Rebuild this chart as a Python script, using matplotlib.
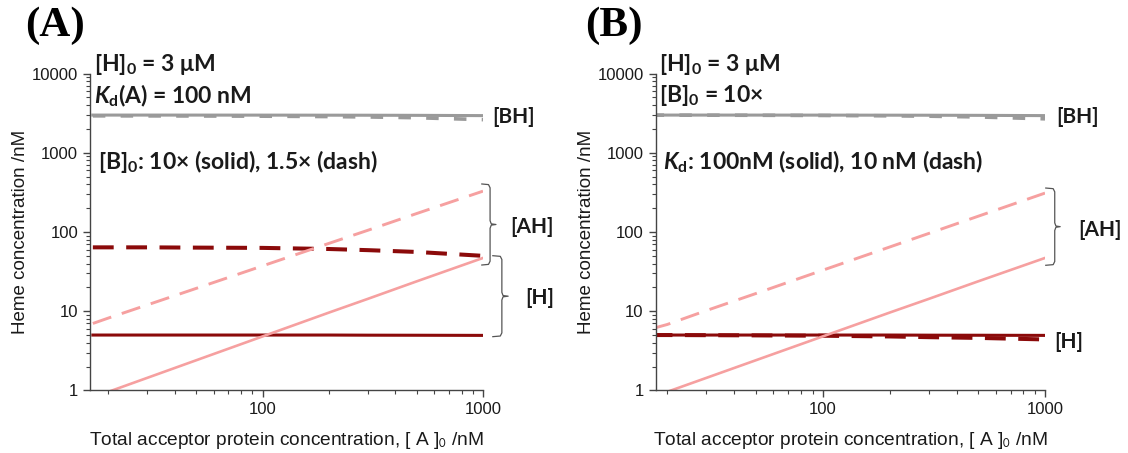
import numpy as np
import matplotlib
matplotlib.use('Agg')
import matplotlib.pyplot as plt
from matplotlib.ticker import FixedLocator, NullFormatter

# total acceptor concentration [A]0 (nM)
conc = [17, 20, 30, 50, 100, 200, 300, 500, 1000]

# panel A: [B]0 10x (solid) vs 1.5x (dash), Kd(A) = 100 nM
a_bh_solid = [2994, 2994, 2994, 2993, 2990, 2985, 2981, 2971, 2948]
a_bh_dash = [2929, 2928, 2924, 2917, 2900, 2867, 2836, 2773, 2622]
a_h_solid = [5.0, 5.0, 5.0, 5.0, 5.0, 5.0, 4.98, 4.97, 4.95]
a_h_dash = [64, 64, 64, 63.5, 63, 61, 59, 56, 50]
a_ah_solid = [0.82, 0.96, 1.44, 2.4, 4.8, 9.6, 14.3, 23.8, 47]
a_ah_dash = [7.0, 8.2, 12.0, 19.4, 37.3, 71.8, 105, 171, 328]

# panel B: Kd 100 nM (solid) vs 10 nM (dash), [B]0 = 10x
b_bh_solid = [2994, 2994, 2994, 2993, 2990, 2985, 2981, 2971, 2948]
b_bh_dash = [2989, 2988, 2985, 2978, 2962, 2931, 2899, 2837, 2686]
b_h_solid = [5.0, 5.0, 5.0, 5.0, 5.0, 5.0, 4.98, 4.97, 4.95]
b_h_dash = [5.0, 5.0, 4.98, 4.95, 4.9, 4.8, 4.7, 4.6, 4.4]
b_ah_solid = [0.82, 0.96, 1.44, 2.4, 4.8, 9.6, 14.3, 23.8, 47]
b_ah_dash = [6.0, 6.8, 10.2, 16.7, 32.9, 64.6, 95.9, 158, 310]

y_ticks = [1, 10, 100, 1000, 10000]
x_ticks = [100, 1000]

GRAY = '#9a9a9a'
DARK = '#8b0a0a'
PINK = '#f6a0a0'
TXT = '#1a1a1a'

plt.rcParams['lines.scale_dashes'] = False
plt.rcParams['mathtext.fontset'] = 'custom'
plt.rcParams['mathtext.rm'] = 'Lato:bold'
plt.rcParams['mathtext.it'] = 'Lato:bold:italic'
plt.rcParams['mathtext.bf'] = 'Lato:bold'

fig = plt.figure(figsize=(11.28, 4.53), dpi=100)
W, H = 1128, 453


def make_axes(left, right, top, bottom):
    return fig.add_axes([left / W, 1 - bottom / H, (right - left) / W, (bottom - top) / H])


def brace(ax, x0, x1, x2, ytop, ybot):
    # curly brace in axes-x / log-y fraction coords
    ft = np.log10(ytop) / 4
    fb = np.log10(ybot) / 4
    fm = (ft + fb) / 2
    r = 0.012
    xs = [x0, x1 - 0.004, x1, x1, x1 + 0.003, x2, x1 + 0.003, x1, x1, x1 - 0.004, x0]
    ys = [ft, ft - 0.002, ft - r, fm + r, fm + 0.002, fm, fm - 0.002, fm - r, fb + r, fb + 0.002, fb]
    ax.plot(xs, ys, color='#555555', lw=0.9, transform=ax.transAxes, clip_on=False)


def style(ax, xmin):
    ax.set_xscale('log')
    ax.set_yscale('log')
    ax.set_xlim(xmin, 1000)
    ax.set_ylim(1, 10000)
    for s in ['top', 'right']:
        ax.spines[s].set_visible(False)
    for s in ['left', 'bottom']:
        ax.spines[s].set_color('#444444')
        ax.spines[s].set_linewidth(1.0)
    ax.yaxis.set_major_locator(FixedLocator(y_ticks))
    ax.set_yticklabels([str(v) for v in y_ticks])
    ax.yaxis.set_minor_locator(FixedLocator([m * 10 ** d for d in range(4) for m in range(2, 10)]))
    ax.xaxis.set_major_locator(FixedLocator(x_ticks))
    ax.set_xticklabels([str(v) for v in x_ticks])
    ax.xaxis.set_minor_locator(FixedLocator([m * 10 ** d for d in range(1, 3) for m in range(2, 10)]))
    ax.xaxis.set_minor_formatter(NullFormatter())
    ax.yaxis.set_minor_formatter(NullFormatter())
    ax.tick_params(which='major', direction='out', length=5, width=1, color='#444444',
                   labelsize=12, labelcolor=TXT)
    ax.tick_params(which='minor', direction='out', length=3, width=0.8, color='#444444')
    for lab in ax.get_xticklabels() + ax.get_yticklabels():
        lab.set_fontfamily('Liberation Sans')
    ax.set_ylabel('Heme concentration /nM', fontsize=13.5, family='Liberation Sans',
                  color=TXT, labelpad=2)
    ax.set_xlabel(r'Total acceptor protein concentration, [ A ]$_0$ /nM', fontsize=13.8,
                  family='Liberation Sans', color=TXT, labelpad=9)
    ax.xaxis.label.set_math_fontfamily('stixsans')


def draw(ax, bh_s, bh_d, h_s, h_d, ah_s, ah_d):
    ax.plot(conc, bh_d, color=GRAY, lw=2.6, dashes=(9, 11))
    ax.plot(conc, bh_s, color=GRAY, lw=2.2)
    ax.plot(conc, h_d, color=DARK, lw=2.9, dashes=(15, 9))
    ax.plot(conc, h_s, color=DARK, lw=2.2)
    ax.plot(conc, ah_d, color=PINK, lw=2.1, dashes=(14, 8))
    ax.plot(conc, ah_s, color=PINK, lw=1.9)


note = dict(fontsize=16.5, family='Lato', fontweight='bold', color=TXT, va='center')
bold = dict(fontsize=15, family='Lato', fontweight='bold', color=TXT, va='center')

# panel A
axA = make_axes(90, 483, 73.6, 390.4)
style(axA, 16.5)
draw(axA, a_bh_solid, a_bh_dash, a_h_solid, a_h_dash, a_ah_solid, a_ah_dash)
axA.text(0.009, 1.030, r'[H]$_\mathrm{0}$ = 3 $\mathrm{\mu}$M', transform=axA.transAxes, **note)
axA.text(0.009, 0.930, r'$K_\mathrm{d}$(A) = 100 nM', transform=axA.transAxes, **note)
axA.text(0.02, 0.722, r'[B]$_\mathrm{0}$: 10× (solid), 1.5× (dash)', transform=axA.transAxes, **note)
axA.text(1.023, 2840, '[BH]', transform=axA.get_yaxis_transform(), **bold)
axA.text(1.069, 117, '[AH]', transform=axA.get_yaxis_transform(), **bold)
axA.text(1.107, 14.7, '[H]', transform=axA.get_yaxis_transform(), **bold)
brace(axA, 0.997, 1.018, 1.033, 404, 38.3)
brace(axA, 1.025, 1.048, 1.064, 50.2, 4.77)
fig.text(25 / W, 1 - 26 / H, '(A)', fontsize=31, family='Liberation Serif', fontweight='bold',
         va='center', ha='left')

# panel B
axB = make_axes(655.5, 1045, 73.6, 390.4)
style(axB, 17.7)
draw(axB, b_bh_solid, b_bh_dash, b_h_solid, b_h_dash, b_ah_solid, b_ah_dash)
axB.text(0.009, 1.030, r'[H]$_\mathrm{0}$ = 3 $\mathrm{\mu}$M', transform=axB.transAxes, **note)
axB.text(0.009, 0.930, r'[B]$_\mathrm{0}$ = 10×', transform=axB.transAxes, **note)
axB.text(0.02, 0.722, r'$K_\mathrm{d}$: 100nM (solid), 10 nM (dash)', transform=axB.transAxes, **note)
axB.text(1.028, 2840, '[BH]', transform=axB.get_yaxis_transform(), **bold)
axB.text(1.085, 105, '[AH]', transform=axB.get_yaxis_transform(), **bold)
axB.text(1.025, 4.1, '[H]', transform=axB.get_yaxis_transform(), **bold)
brace(axB, 1.002, 1.025, 1.039, 359, 38)
fig.text(585 / W, 1 - 26 / H, '(B)', fontsize=31, family='Liberation Serif', fontweight='bold',
         va='center', ha='left')

fig.savefig('out.png', dpi=100)
